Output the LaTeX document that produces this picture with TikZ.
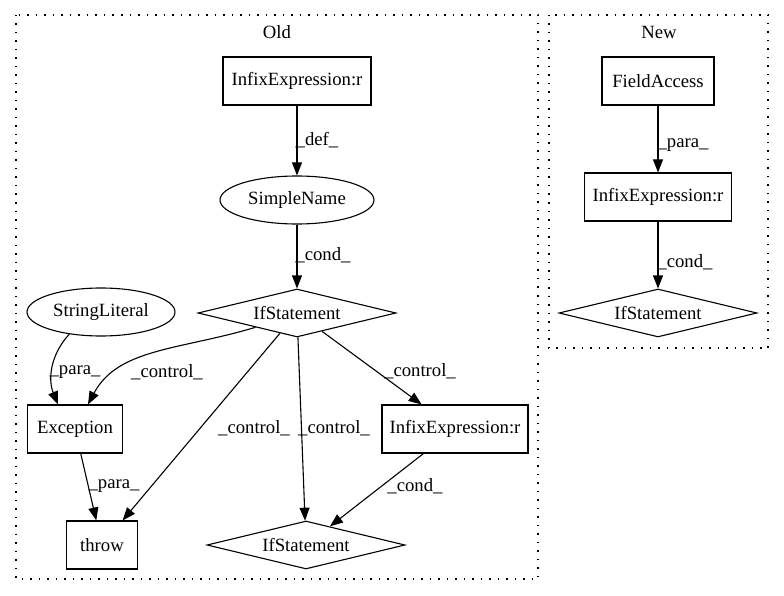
\documentclass[tikz,border=0pt]{standalone}
\usepackage{fontspec}
\setmainfont{Liberation Serif}
\usetikzlibrary{shapes.geometric,arrows.meta}

\begin{document}
\begin{tikzpicture}[x=1pt,y=-1pt]
                \tikzstyle{every node}=[font=\fontsize{18.7}{22}\selectfont, inner sep=0pt]
                \tikzstyle{box}=[rectangle, draw, line width=1.1pt, minimum height=48pt]
                \tikzstyle{oval}=[ellipse, draw, line width=1.1pt, minimum height=48pt]
                \tikzstyle{test}=[diamond, draw, line width=1.1pt, aspect=4, minimum width=198pt, minimum height=48pt]
                \tikzstyle{clus}=[line width=1.3pt, dash pattern=on 1.5pt off 7pt]
                \tikzstyle{edge}=[line width=1.1pt, -{Triangle[length=13pt,width=10pt]}]

                \useasboundingbox (0,0) rectangle (784,596);

                \draw[clus] (16,15) rectangle (538,579);
                \node (old) at (277,32) {Old};
                \draw[clus] (549,15) rectangle (768,348);
                \node (new) at (659,32) {New};

                \node[box, minimum width=148pt] (ie1) at (297,81) {InfixExpression:r};
                \node[oval, minimum width=154pt] (sn) at (297,200) {SimpleName};
                \node[test] (if1) at (297,313) {IfStatement};
                \node[oval, minimum width=148pt] (sl) at (101,312) {StringLiteral};
                \node[box, minimum width=95pt] (ex) at (75,429) {Exception};
                \node[box, minimum width=146pt] (ie2) at (455,429) {InfixExpression:r};
                \node[box, minimum width=71pt] (th) at (102,545) {throw};
                \node[test] (if2) at (306,545) {IfStatement};

                \node[box, minimum width=112pt] (fa) at (658,81) {FieldAccess};
                \node[box, minimum width=147pt] (ie3) at (658,197) {InfixExpression:r};
                \node[test] (if3) at (658,313) {IfStatement};

                \draw[edge] (ie1) -- (sn);
                \draw[edge] (sn) -- (if1);
                \draw[edge] (sl.215) .. controls (50,355) and (48,380) .. ([xshift=-17pt]ex.north);
                \draw[edge] (if1.199) .. controls (180,350) and (118,348) .. ([xshift=13pt]ex.north);
                \draw[edge] (if1) -- (th);
                \draw[edge] (if1) -- (if2);
                \draw[edge] (if1) -- (ie2);
                \draw[edge] (ex) -- (th);
                \draw[edge] (ie2) -- (if2);
                \draw[edge] (fa) -- (ie3);
                \draw[edge] (ie3) -- (if3);

                \node (l1) at (317,140) {\_def\_};
                \node (l2) at (323,255) {\_cond\_};
                \node (l3) at (75,372) {\_para\_};
                \node (l4) at (167,372) {\_control\_};
                \node (l5) at (420,371) {\_control\_};
                \node (l6) at (254,428) {\_control\_};
                \node (l7) at (334,428) {\_control\_};
                \node (l8) at (114,486) {\_para\_};
                \node (l9) at (415,486) {\_cond\_};
                \node (l10) at (683,145) {\_para\_};
                \node (l11) at (685,262) {\_cond\_};
            \end{tikzpicture}
\end{document}
